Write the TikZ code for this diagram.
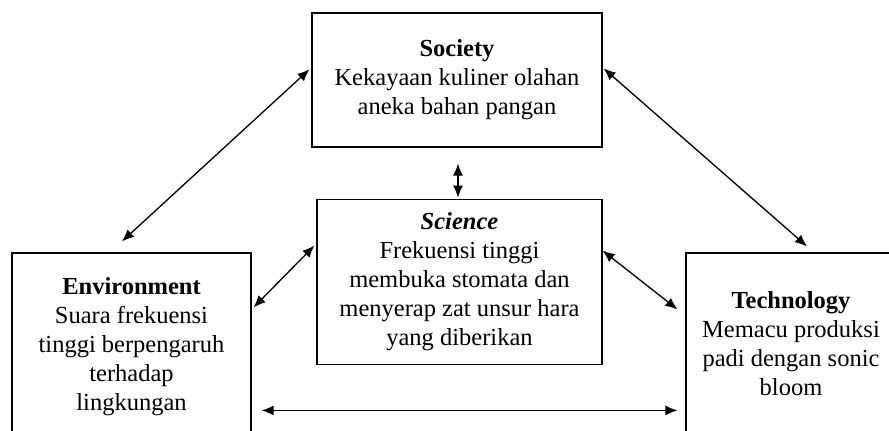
\documentclass[tikz,border=0pt]{standalone}
\usepackage{fontspec}
\setmainfont{Liberation Serif}
\usepackage{tikz}
\usetikzlibrary{positioning, calc, arrows.meta}
\tikzstyle{Box} = [
	draw,
	line width=1.2pt,
	rectangle,
	align=center,
	inner sep=0pt,
	font=\fontsize{24.5}{29}\selectfont
	]
\tikzstyle{Arrow} = [
	line width=1.3pt,
	{Latex[length=12pt, width=10pt]}-{Latex[length=12pt, width=10pt]}
	]

\begin{document}
\begin{tikzpicture}[x=1pt, y=-1pt]
	\useasboundingbox (0,0) rectangle (889,431);
	\clip (0,0) rectangle (889,431);
	%nodes:
		\node [Box, minimum width=290pt, minimum height=134pt] (soc) at (457,80)
			{\textbf{Society}\\Kekayaan kuliner olahan\\aneka bahan pangan};
		\node [Box, minimum width=285pt, minimum height=165pt, below =51pt of soc, xshift=2.5pt] (sci)
			{\textbf{\textit{Science}}\\Frekuensi tinggi\\membuka stomata dan\\menyerap zat unsur hara\\yang diberikan};
		\node [Box, minimum width=239pt, minimum height=187pt] (env) at (131.5,346.5)
			{\textbf{Environment}\\Suara frekuensi\\tinggi berpengaruh\\terhadap\\lingkungan};
		\node [Box, minimum width=210pt, minimum height=182pt] (tech) at (791,344)
			{\textbf{Technology}\\Memacu produksi\\padi dengan sonic\\bloom};
	%edges:
		\draw[Arrow] ($(soc.north west)+(-2,57)$) -- ($(env.north)+(-9.5,-11)$);
		\draw[Arrow] ($(soc.north east)+(1,56)$) -- ($(tech.north)+(16,-6)$);
		\draw[Arrow] ($(soc.south)+(1,16)$) -- ($(sci.north)+(-1.5,-1)$);
		\draw[Arrow] ($(sci.north west)+(-2,47)$) -- ($(env.north east)+(2,55)$);
		\draw[Arrow] ($(sci.north east)+(0,52)$) -- ($(tech.north west)+(-8,57)$);
		\draw[Arrow] ($(env.north east)+(10,158)$) -- ($(tech.north west)+(-8,158)$);
\end{tikzpicture}
\end{document}
